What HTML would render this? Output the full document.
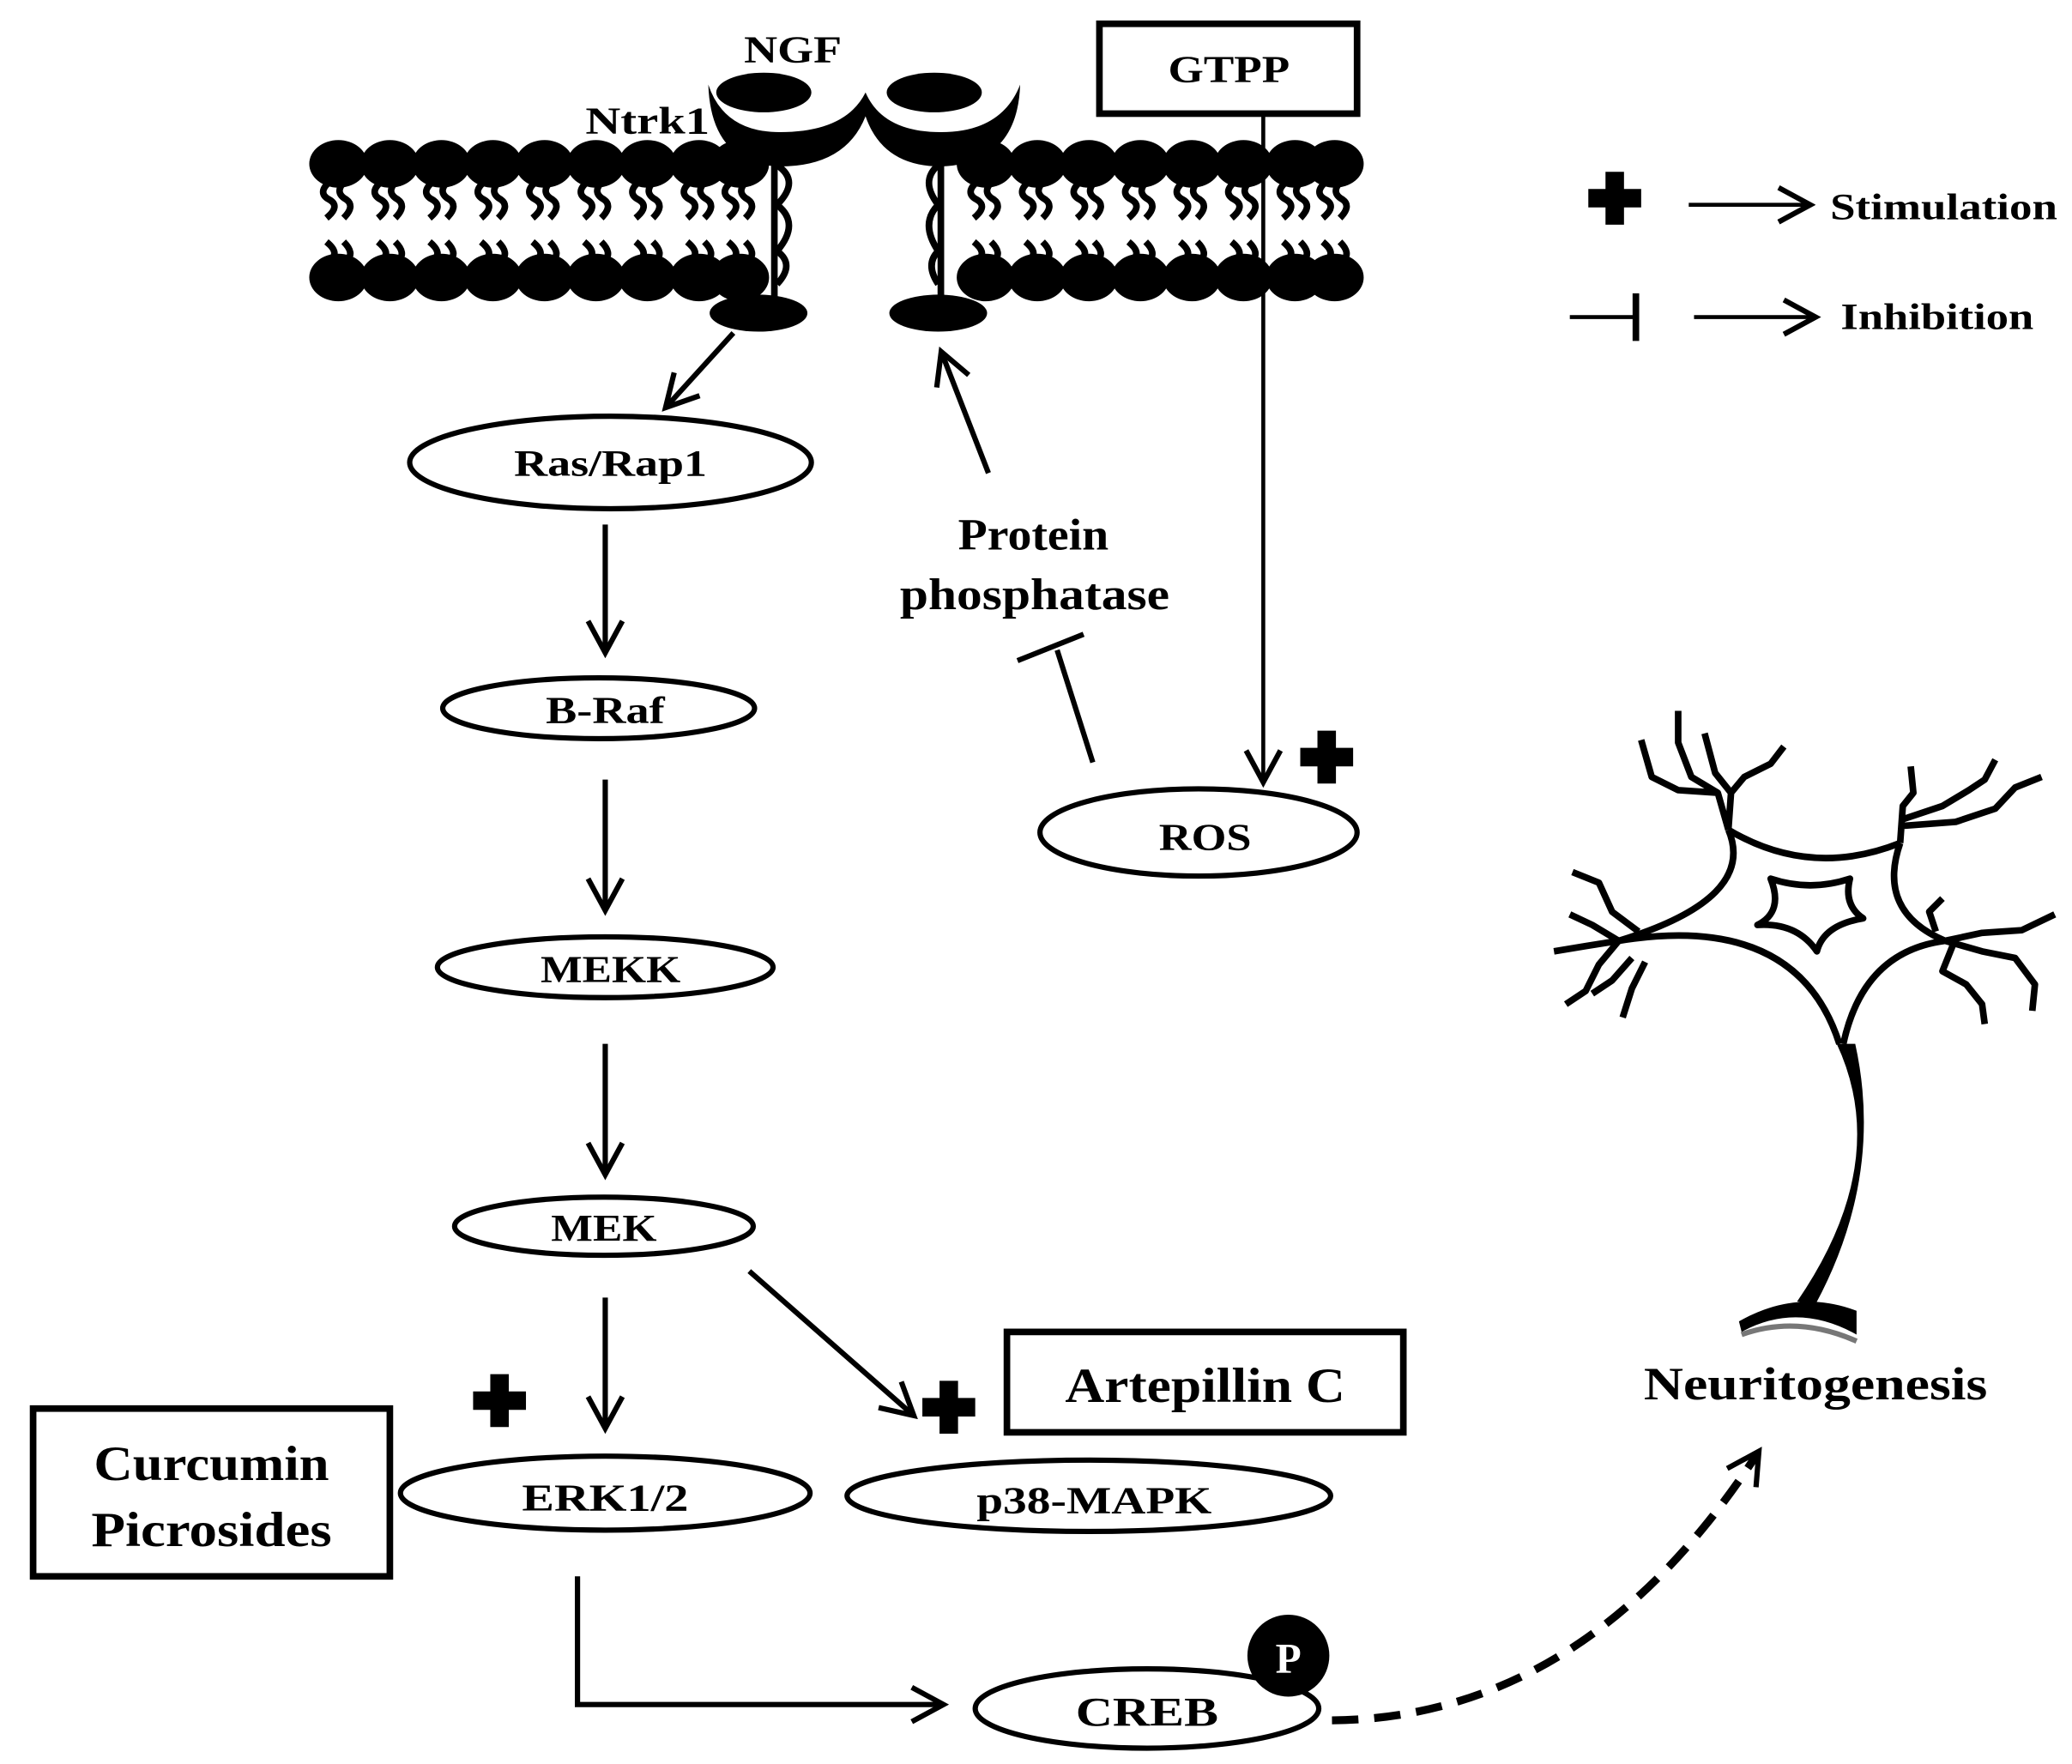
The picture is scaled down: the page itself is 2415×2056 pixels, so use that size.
<!DOCTYPE html>
<html><head><meta charset="utf-8"><style>
html,body{margin:0;padding:0;background:#fff;}
svg{display:block;}
text{font-family:"Liberation Serif",serif;font-weight:bold;fill:#000;}
</style></head><body>
<svg width="2415" height="2056" viewBox="0 0 1568 1335" xmlns="http://www.w3.org/2000/svg">
<defs>
<marker id="ahb" markerWidth="30" markerHeight="30" refX="24" refY="15" orient="auto" markerUnits="userSpaceOnUse" viewBox="0 0 30 30">
<path d="M2,2 L26,15 L2,28" fill="none" stroke="#000" stroke-width="4"/></marker>
<g id="tail"><path d="M-7,0 q-9,8 0,13 q9,5 -2,14 M4,0 q-7,8 2,13 q7,5 -2,14" fill="none" stroke="#000" stroke-width="5"/></g>
<g id="lip"><ellipse cx="0" cy="0" rx="22" ry="18"/><use href="#tail" y="14"/><use href="#tail" transform="translate(0,86) scale(1,-1)" /><ellipse cx="0" cy="86" rx="22" ry="18"/></g>
<path id="plus" d="M-7,-20 h14 v13 h13 v14 h-13 v13 h-14 v-13 h-13 v-14 h13z"/>
</defs>

<g fill="#000">
<use href="#lip" x="256" y="124"/><use href="#lip" x="295" y="124"/><use href="#lip" x="334" y="124"/><use href="#lip" x="373" y="124"/><use href="#lip" x="412" y="124"/><use href="#lip" x="451" y="124"/><use href="#lip" x="490" y="124"/><use href="#lip" x="529" y="124"/><use href="#lip" x="560" y="124"/>
<use href="#lip" x="746" y="124"/><use href="#lip" x="785" y="124"/><use href="#lip" x="824" y="124"/><use href="#lip" x="863" y="124"/><use href="#lip" x="902" y="124"/><use href="#lip" x="941" y="124"/><use href="#lip" x="980" y="124"/><use href="#lip" x="1010" y="124"/>
</g>
<g fill="#000" stroke="none">
<ellipse cx="578" cy="70" rx="36" ry="15"/>
<ellipse cx="707" cy="70" rx="36" ry="15"/>
<path d="M536,64 Q548,100 590,100 Q640,100 655,70 Q668,100 712,100 Q758,100 772,64 Q770,124 712,126 Q668,126 655,88 Q640,126 590,126 Q538,124 536,64z"/>
<ellipse cx="574" cy="237" rx="37" ry="14"/>
<ellipse cx="710" cy="237" rx="37" ry="14"/>
</g>
<path d="M586,118 V230 M712,118 V230" stroke="#000" stroke-width="5"/>
<path d="M588,125 q18,12 0,30 q18,14 0,35 q14,10 0,25 M710,125 q-14,12 0,30 q-14,14 0,35 q-10,10 0,25" stroke="#000" stroke-width="5" fill="none"/>
<text x="600" y="47" font-size="29" text-anchor="middle" textLength="74" lengthAdjust="spacingAndGlyphs">NGF</text>
<text x="490" y="101" font-size="29" text-anchor="middle" textLength="94" lengthAdjust="spacingAndGlyphs">Ntrk1</text>

<rect x="832" y="18" width="195" height="68" fill="none" stroke="#000" stroke-width="5"/>
<text x="930" y="62" font-size="29" text-anchor="middle" textLength="92" lengthAdjust="spacingAndGlyphs">GTPP</text>
<line x1="956" y1="86" x2="956" y2="590" stroke="#000" stroke-width="3" marker-end="url(#ahb)"/>
<use href="#plus" x="1004" y="573"/>
<ellipse cx="907" cy="630" rx="120" ry="33" fill="none" stroke="#000" stroke-width="4"/>
<text x="912" y="643" font-size="29" text-anchor="middle" textLength="70" lengthAdjust="spacingAndGlyphs">ROS</text>
<line x1="827" y1="577" x2="800" y2="492" stroke="#000" stroke-width="4"/>
<line x1="770" y1="500" x2="820" y2="480" stroke="#000" stroke-width="4"/>
<text x="782" y="416" font-size="34" text-anchor="middle" textLength="114" lengthAdjust="spacingAndGlyphs">Protein</text>
<text x="783" y="461" font-size="34" text-anchor="middle" textLength="204" lengthAdjust="spacingAndGlyphs">phosphatase</text>
<line x1="748" y1="358" x2="713" y2="268" stroke="#000" stroke-width="4" marker-end="url(#ahb)"/>

<line x1="555" y1="252" x2="505" y2="307" stroke="#000" stroke-width="4" marker-end="url(#ahb)"/>
<g fill="none" stroke="#000" stroke-width="4">
<ellipse cx="462" cy="350" rx="152" ry="35"/>
<ellipse cx="453" cy="536" rx="118" ry="23"/>
<ellipse cx="458" cy="732" rx="127" ry="23"/>
<ellipse cx="457" cy="928" rx="113" ry="22"/>
<ellipse cx="458" cy="1130" rx="155" ry="28"/>
<ellipse cx="824" cy="1132" rx="183" ry="27"/>
<ellipse cx="868" cy="1293" rx="130" ry="30"/>
</g>
<g stroke="#000" stroke-width="4">
<line x1="458" y1="397" x2="458" y2="492" marker-end="url(#ahb)"/>
<line x1="458" y1="590" x2="458" y2="687" marker-end="url(#ahb)"/>
<line x1="458" y1="790" x2="458" y2="887" marker-end="url(#ahb)"/>
<line x1="458" y1="982" x2="458" y2="1079" marker-end="url(#ahb)"/>
<line x1="567" y1="962" x2="690" y2="1070" marker-end="url(#ahb)"/>
<polyline points="437,1193 437,1290 712,1290" fill="none" marker-end="url(#ahb)"/>
</g>
<text x="462" y="360" font-size="28" text-anchor="middle" textLength="146" lengthAdjust="spacingAndGlyphs">Ras/Rap1</text>
<text x="458" y="547" font-size="29" text-anchor="middle" textLength="90" lengthAdjust="spacingAndGlyphs">B-Raf</text>
<text x="462" y="743" font-size="29" text-anchor="middle" textLength="106" lengthAdjust="spacingAndGlyphs">MEKK</text>
<text x="457" y="939" font-size="29" text-anchor="middle" textLength="80" lengthAdjust="spacingAndGlyphs">MEK</text>
<text x="458" y="1143" font-size="29" text-anchor="middle" textLength="126" lengthAdjust="spacingAndGlyphs">ERK1/2</text>
<text x="828" y="1145" font-size="29" text-anchor="middle" textLength="178" lengthAdjust="spacingAndGlyphs">p38-MAPK</text>
<text x="868" y="1306" font-size="31" text-anchor="middle" textLength="108" lengthAdjust="spacingAndGlyphs">CREB</text>
<circle cx="975" cy="1253" r="31" fill="#000"/>
<text x="975" y="1266" font-size="32" text-anchor="middle" style="fill:#fff">P</text>
<use href="#plus" x="378" y="1060"/>
<use href="#plus" x="718" y="1065"/>
<rect x="762" y="1008" width="300" height="76" fill="none" stroke="#000" stroke-width="5"/>
<text x="912" y="1061" font-size="37" text-anchor="middle" textLength="212" lengthAdjust="spacingAndGlyphs">Artepillin C</text>
<rect x="25" y="1066" width="270" height="127" fill="none" stroke="#000" stroke-width="5"/>
<text x="160" y="1120" font-size="37" text-anchor="middle" textLength="178" lengthAdjust="spacingAndGlyphs">Curcumin</text>
<text x="160" y="1170" font-size="37" text-anchor="middle" textLength="182" lengthAdjust="spacingAndGlyphs">Picrosides</text>
<path d="M1008,1302 Q1200,1300 1330,1100" fill="none" stroke="#000" stroke-width="6" stroke-dasharray="20,12" marker-end="url(#ahb)"/>

<use href="#plus" x="1222" y="150"/>
<line x1="1278" y1="155" x2="1368" y2="155" stroke="#000" stroke-width="3" marker-end="url(#ahb)"/>
<text x="1385" y="166" font-size="28" textLength="172" lengthAdjust="spacingAndGlyphs">Stimulation</text>
<line x1="1188" y1="240" x2="1238" y2="240" stroke="#000" stroke-width="3"/>
<line x1="1238" y1="222" x2="1238" y2="258" stroke="#000" stroke-width="5"/>
<line x1="1282" y1="240" x2="1372" y2="240" stroke="#000" stroke-width="3" marker-end="url(#ahb)"/>
<text x="1393" y="249" font-size="28" textLength="146" lengthAdjust="spacingAndGlyphs">Inhibition</text>

<g fill="none" stroke="#000" stroke-width="5" stroke-linejoin="round">
<path d="M1308,628 Q1370,665 1438,638"/>
<path d="M1308,628 Q1330,680 1225,712"/>
<path d="M1225,712 Q1360,690 1392,790"/>
<path d="M1438,638 Q1420,690 1472,712"/>
<path d="M1472,712 Q1410,720 1395,790"/>
<path d="M1340,665 Q1350,690 1330,700 Q1360,698 1375,720 Q1380,700 1410,695 Q1395,685 1400,665 Q1370,675 1340,665z"/>
<path d="M1308,628 L1310,600 L1298,585 L1290,555 M1308,628 L1300,600 L1280,588 L1270,562 L1270,538 M1300,600 L1270,598 L1250,588 L1242,560 M1310,600 L1320,588 L1340,578 L1350,565"/>
<path d="M1438,638 L1440,610 L1448,600 L1446,580 M1440,620 L1470,610 L1490,598 L1502,590 L1510,575 M1440,625 L1480,622 L1510,612 L1525,596 L1545,588"/>
<path d="M1225,712 L1205,700 L1188,692 M1225,712 L1200,716 L1176,720 M1225,712 L1210,730 L1200,750 L1185,760 M1240,705 L1220,690 L1210,668 L1190,660 M1235,725 L1220,742 L1205,752 M1245,728 L1235,748 L1228,770"/>
<path d="M1472,712 L1500,706 L1530,704 L1555,692 M1472,712 L1500,720 L1525,725 L1540,745 L1538,765 M1465,705 L1460,690 L1470,680 M1478,715 L1470,735 L1488,745 L1500,760 L1502,775"/>
</g>
<path d="M1390,790 Q1432,880 1360,985 L1374,987 Q1426,890 1404,790z" fill="#000"/>
<path d="M1316,1000 Q1360,975 1405,992 L1405,1010 Q1360,985 1318,1008z" fill="#000"/>
<path d="M1318,1010 Q1360,995 1405,1015" fill="none" stroke="#777" stroke-width="4"/>
<text x="1374" y="1059" font-size="35" text-anchor="middle" textLength="260" lengthAdjust="spacingAndGlyphs">Neuritogenesis</text>
</svg>
</body></html>
